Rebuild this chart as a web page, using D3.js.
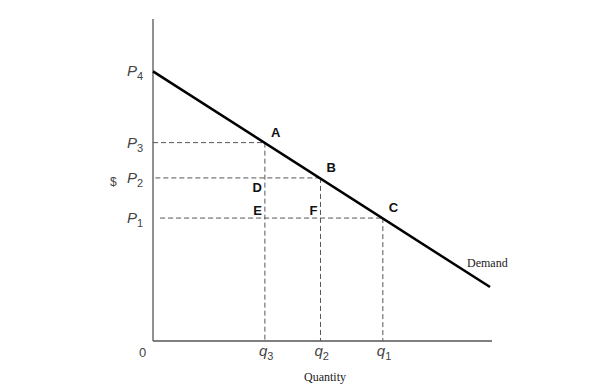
<!DOCTYPE html>
<html>
<head>
<meta charset="utf-8">
<script src="https://cdn.jsdelivr.net/npm/d3@7"></script>
<style>
  body { margin: 0; background: #fff; }
  svg { display: block; }
</style>
</head>
<body>
<div id="chart"></div>
<script>
// demand curve end points (quantity, price)
const demandQ = [0, 100];
const demandP = [84, 16.8];

// marked quantities / prices
const pointNames = ["A", "B", "C"];
const pointQ = [33.2, 49.7, 68.2];
const pointP = [61.8, 50.8, 38.3];
const qLabels = ["3", "2", "1"];
const pLabels = ["3", "2", "1"];
const innerNames = ["D", "E", "F"];
const innerQ = [33.2, 33.2, 49.7];
const innerP = [50.8, 38.3, 38.3];
const dashStart = [0, 0.7, 2.1]; // where each price dash starts on the x data scale
const topPrice = 84;

const width = 615, height = 388;
const svg = d3.select("#chart").append("svg")
  .attr("width", width)
  .attr("height", height);

const x = d3.scaleLinear().domain([0, 100]).range([153, 490]);
const y = d3.scaleLinear().domain([0, 100]).range([341, 20]);

// axes
svg.append("line")
  .attr("x1", x(0)).attr("x2", x(0))
  .attr("y1", 19).attr("y2", y(0))
  .attr("stroke", "#555").attr("stroke-width", 1.3);
svg.append("line")
  .attr("x1", x(0)).attr("x2", 492)
  .attr("y1", y(0)).attr("y2", y(0))
  .attr("stroke", "#555").attr("stroke-width", 1.3);

// dashed guides
const pts = pointQ.map((q, i) => ({ q: q, p: pointP[i], name: pointNames[i], d0: dashStart[i] }));

svg.selectAll("line.h").data(pts).enter().append("line")
  .attr("class", "h")
  .attr("x1", d => x(d.d0)).attr("x2", d => x(d.q))
  .attr("y1", d => y(d.p)).attr("y2", d => y(d.p))
  .attr("stroke", "#555").attr("stroke-width", 1)
  .attr("stroke-dasharray", "5,3");

svg.selectAll("line.v").data(pts).enter().append("line")
  .attr("class", "v")
  .attr("x1", d => x(d.q)).attr("x2", d => x(d.q))
  .attr("y1", d => y(d.p)).attr("y2", y(0))
  .attr("stroke", "#555").attr("stroke-width", 1)
  .attr("stroke-dasharray", "5,3");

// demand line
svg.append("line")
  .attr("x1", x(demandQ[0])).attr("y1", y(demandP[0]))
  .attr("x2", x(demandQ[1])).attr("y2", y(demandP[1]))
  .attr("stroke", "#000").attr("stroke-width", 2.5);

// point labels A B C
svg.selectAll("text.pt").data(pts).enter().append("text")
  .attr("class", "pt")
  .attr("x", d => x(d.q) + 6)
  .attr("y", d => y(d.p) - 6)
  .attr("font-family", "Liberation Sans, Arial, sans-serif")
  .attr("font-weight", "bold")
  .attr("font-size", 13)
  .attr("fill", "#111")
  .text(d => d.name);

// interior labels D E F
const inner = innerNames.map((n, i) => ({ name: n, q: innerQ[i], p: innerP[i] }));
svg.selectAll("text.in").data(inner).enter().append("text")
  .attr("class", "in")
  .attr("x", d => x(d.q) - 3)
  .attr("y", d => y(d.p) + (d.name === "D" ? 14 : -3))
  .attr("text-anchor", "end")
  .attr("font-family", "Liberation Sans, Arial, sans-serif")
  .attr("font-weight", "bold")
  .attr("font-size", 13)
  .attr("fill", "#111")
  .text(d => d.name);

// price labels P4 .. P1
const priceTicks = [{ p: topPrice, sub: "4" }].concat(pointP.map((p, i) => ({ p: p, sub: pLabels[i] })));
const pt = svg.selectAll("text.pl").data(priceTicks).enter().append("text")
  .attr("class", "pl")
  .attr("x", 127)
  .attr("y", d => y(d.p) + 5)
  .attr("font-family", "Liberation Sans, Arial, sans-serif")
  .attr("font-size", 15)
  .attr("fill", "#444");
pt.append("tspan").attr("font-style", "italic").text("P");
pt.append("tspan").attr("font-size", 11).attr("dy", 4).text(d => d.sub);

svg.append("text")
  .attr("x", 110).attr("y", y(pointP[1]) + 8)
  .attr("font-family", "Liberation Sans, Arial, sans-serif")
  .attr("font-size", 12)
  .attr("fill", "#444")
  .text("$");

// quantity labels
const qt = svg.selectAll("text.ql").data(pts).enter().append("text")
  .attr("class", "ql")
  .attr("x", d => x(d.q) - 6)
  .attr("y", 356)
  .attr("font-family", "Liberation Sans, Arial, sans-serif")
  .attr("font-size", 15)
  .attr("fill", "#444");
qt.append("tspan").attr("font-style", "italic").text("q");
qt.append("tspan").attr("font-size", 11).attr("dy", 4).text((d, i) => qLabels[i]);

svg.append("text")
  .attr("x", 139).attr("y", 357)
  .attr("font-family", "Liberation Sans, Arial, sans-serif")
  .attr("font-size", 13)
  .attr("fill", "#444")
  .text("0");

svg.append("text")
  .attr("x", 325).attr("y", 381)
  .attr("text-anchor", "middle")
  .attr("font-family", "Liberation Serif, Times New Roman, serif")
  .attr("font-size", 12)
  .attr("fill", "#222")
  .text("Quantity");

svg.append("text")
  .attr("x", 467).attr("y", 267)
  .attr("font-family", "Liberation Serif, Times New Roman, serif")
  .attr("font-size", 12)
  .attr("fill", "#222")
  .text("Demand");
</script>
</body>
</html>
